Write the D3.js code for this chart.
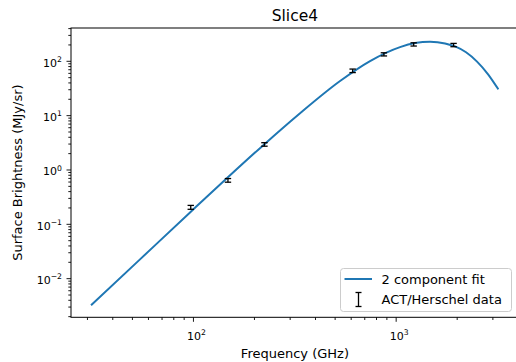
<!DOCTYPE html>
<html><head><meta charset="utf-8">
<script src="https://cdn.jsdelivr.net/npm/d3@7"></script>
<style>
html,body{margin:0;padding:0;background:#fff;}
svg{display:block;font-family:"DejaVu Sans",sans-serif;}
</style></head>
<body>
<svg id="chart" width="516" height="362"></svg>
<script>
// ---- data ----
const fitFreq = [31.25, 54.5, 96.2, 151.6, 220.5, 335.7, 528.8, 743.4, 1045, 1240, 1470, 1743, 1953, 2212, 2506, 2841, 3193];
const fitValue = [0.003236, 0.02265, 0.1652, 0.798, 2.835, 11.09, 43.4, 101.1, 182.6, 216.8, 229.6, 213.6, 187.7, 146.5, 98.8, 57.7, 30.5];
const dataFreq = [97, 148, 224, 610, 870, 1220, 1920];
const dataValue = [0.206, 0.646, 2.96, 67, 134.5, 205, 199.6];
const dataErr = [0.017, 0.05, 0.22, 5, 9, 14, 14];
const xMajorTicks = [100, 1000];
const xTickExp = ["2", "3"];
const yMajorTicks = [0.01, 0.1, 1, 10, 100];
const yTickExp = ["\u22122", "\u22121", "0", "1", "2"];
const titleText = "Slice4";
const xLabel = "Frequency (GHz)";
const yLabel = "Surface Brightness (MJy/sr)";
const legendLabels = ["2 component fit", "ACT/Herschel data"];

const svg = d3.select("#chart");
const L = 71, R = 518.8, T = 28, B = 317.3;
const x = d3.scaleLog().domain([Math.pow(10, 1.396), Math.pow(10, 3.605)]).range([L, R]);
const y = d3.scaleLog().domain([Math.pow(10, -2.711), Math.pow(10, 2.613)]).range([B, T]);

svg.append("defs").append("clipPath").attr("id", "clip")
  .append("rect").attr("x", L).attr("y", T).attr("width", R - L).attr("height", B - T);

// minor ticks
const xMinor = [];
for (let d = 1; d <= 3; d++) for (let m = 2; m <= 9; m++) {
  const v = m * Math.pow(10, d);
  if (v > x.domain()[0] && v < x.domain()[1]) xMinor.push(v);
}
const yMinor = [];
for (let d = -3; d <= 2; d++) for (let m = 2; m <= 9; m++) {
  const v = m * Math.pow(10, d);
  if (v > y.domain()[0] && v < y.domain()[1]) yMinor.push(v);
}
const tg = svg.append("g").attr("stroke", "#000").attr("stroke-width", 0.9);
tg.selectAll(".xmi").data(xMinor).join("line")
  .attr("x1", d => x(d)).attr("x2", d => x(d)).attr("y1", B).attr("y2", B + 2.7);
tg.selectAll(".xma").data(xMajorTicks).join("line")
  .attr("x1", d => x(d)).attr("x2", d => x(d)).attr("y1", B).attr("y2", B + 4.5);
tg.selectAll(".ymi").data(yMinor).join("line")
  .attr("y1", d => y(d)).attr("y2", d => y(d)).attr("x1", L).attr("x2", L - 2.7);
tg.selectAll(".yma").data(yMajorTicks).join("line")
  .attr("y1", d => y(d)).attr("y2", d => y(d)).attr("x1", L).attr("x2", L - 4.5);

// tick labels
const xt = svg.append("g").attr("font-size", 11).attr("fill", "#000");
xMajorTicks.forEach((v, i) => {
  const t = xt.append("text").attr("x", x(v) + 3).attr("y", 339.5).attr("text-anchor", "middle");
  t.append("tspan").text("10");
  t.append("tspan").attr("font-size", 7.7).attr("dy", -4.6).text(xTickExp[i]);
});
const yt = svg.append("g").attr("font-size", 11).attr("fill", "#000");
yMajorTicks.forEach((v, i) => {
  const t = yt.append("text").attr("x", 62).attr("y", y(v) + 5.2).attr("text-anchor", "end");
  t.append("tspan").text("10");
  t.append("tspan").attr("font-size", 7.7).attr("dy", -4.6).text(yTickExp[i]);
});

// fit line
const line = d3.line().x((d, i) => x(fitFreq[i])).y((d, i) => y(fitValue[i])).curve(d3.curveMonotoneX);
svg.append("path").datum(fitValue).attr("clip-path", "url(#clip)")
  .attr("d", line).attr("fill", "none").attr("stroke", "#1f77b4").attr("stroke-width", 2);

// error bars
const eb = svg.append("g").attr("stroke", "#000").attr("stroke-width", 1.3);
dataFreq.forEach((f, i) => {
  const cx = x(f), lo = y(dataValue[i] - dataErr[i]), hi = y(dataValue[i] + dataErr[i]);
  eb.append("line").attr("x1", cx).attr("x2", cx).attr("y1", lo).attr("y2", hi);
  eb.append("line").attr("x1", cx - 3.2).attr("x2", cx + 3.2).attr("y1", lo).attr("y2", lo);
  eb.append("line").attr("x1", cx - 3.2).attr("x2", cx + 3.2).attr("y1", hi).attr("y2", hi);
});

// frame
svg.append("rect").attr("x", L).attr("y", T).attr("width", R - L).attr("height", B - T)
  .attr("fill", "none").attr("stroke", "#000").attr("stroke-width", 1);

// title & labels
svg.append("text").attr("x", (L + R) / 2).attr("y", 20.5).attr("text-anchor", "middle")
  .attr("font-size", 15.5).attr("fill", "#000").text(titleText);
svg.append("text").attr("x", (L + R) / 2).attr("y", 357.5).attr("text-anchor", "middle")
  .attr("font-size", 13).attr("fill", "#000").text(xLabel);
svg.append("text").attr("transform", `translate(22,${(T + B) / 2}) rotate(-90)`).attr("text-anchor", "middle")
  .attr("font-size", 13).attr("fill", "#000").text(yLabel);

// legend
const lg = svg.append("g");
lg.append("rect").attr("x", 340.5).attr("y", 268.5).attr("width", 171).attr("height", 43).attr("rx", 3)
  .attr("fill", "#fff").attr("fill-opacity", 0.8).attr("stroke", "#cccccc").attr("stroke-width", 1);
lg.append("line").attr("x1", 344.5).attr("x2", 372).attr("y1", 279).attr("y2", 279)
  .attr("stroke", "#1f77b4").attr("stroke-width", 2);
const lx = 358.5;
lg.append("line").attr("x1", lx).attr("x2", lx).attr("y1", 292.5).attr("y2", 306.5).attr("stroke", "#000").attr("stroke-width", 1.3);
lg.append("line").attr("x1", lx - 3).attr("x2", lx + 3).attr("y1", 292.5).attr("y2", 292.5).attr("stroke", "#000").attr("stroke-width", 1.3);
lg.append("line").attr("x1", lx - 3).attr("x2", lx + 3).attr("y1", 306.5).attr("y2", 306.5).attr("stroke", "#000").attr("stroke-width", 1.3);
lg.selectAll(".lt").data(legendLabels).join("text")
  .attr("x", 381.5).attr("y", (d, i) => 283.8 + i * 20.6)
  .attr("font-size", 13).attr("fill", "#000").text(d => d);
</script>
</body></html>
